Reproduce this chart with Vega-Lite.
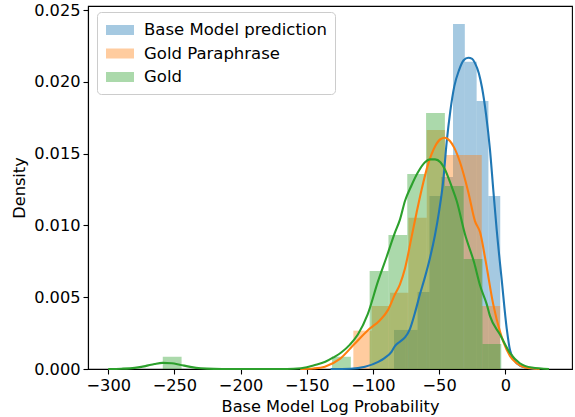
{
  "$schema": "https://vega.github.io/schema/vega-lite/v6.json",
  "width": 484,
  "height": 363,
  "autosize": {"type": "none"},
  "padding": {"left": 88, "top": 6, "right": 3, "bottom": 48},
  "background": "white",
  "config": {
    "view": {"stroke": "#000000", "strokeWidth": 1.1},
    "axis": {
      "domainColor": "#000000", "domainWidth": 1.1,
      "tickColor": "#000000", "tickWidth": 1.1, "tickSize": 5,
      "labelFont": "DejaVu Sans", "labelFontSize": 16.2, "labelColor": "#000000", "labelPadding": 3,
      "titleFont": "DejaVu Sans", "titleFontSize": 16.2, "titleFontWeight": "normal", "titleColor": "#000000",
      "grid": false, "labelOverlap": false
    },
    "axisX": {"titlePadding": 5},
    "axisY": {"titlePadding": 6},
    "legend": {
      "labelFont": "DejaVu Sans", "labelFontSize": 16.5, "labelColor": "#000000", "labelLimit": 400
    }
  },
  "datasets": {
    "bars": [
      {"series": "Base Model prediction", "x0": -84.10, "x1": -75.18, "density": 0.00272},
      {"series": "Base Model prediction", "x0": -75.18, "x1": -66.26, "density": 0.00272},
      {"series": "Base Model prediction", "x0": -66.26, "x1": -57.34, "density": 0.00536},
      {"series": "Base Model prediction", "x0": -57.34, "x1": -48.42, "density": 0.01205},
      {"series": "Base Model prediction", "x0": -48.42, "x1": -39.50, "density": 0.01337},
      {"series": "Base Model prediction", "x0": -39.50, "x1": -30.58, "density": 0.02403},
      {"series": "Base Model prediction", "x0": -30.58, "x1": -21.66, "density": 0.0214},
      {"series": "Base Model prediction", "x0": -21.66, "x1": -12.74, "density": 0.01866},
      {"series": "Base Model prediction", "x0": -12.74, "x1": -3.82, "density": 0.01205},
      {"series": "Gold Paraphrase", "x0": -114.80, "x1": -100.94, "density": 0.00267},
      {"series": "Gold Paraphrase", "x0": -100.94, "x1": -87.08, "density": 0.00439},
      {"series": "Gold Paraphrase", "x0": -87.08, "x1": -73.22, "density": 0.00531},
      {"series": "Gold Paraphrase", "x0": -73.22, "x1": -59.36, "density": 0.01054},
      {"series": "Gold Paraphrase", "x0": -59.36, "x1": -45.50, "density": 0.01664},
      {"series": "Gold Paraphrase", "x0": -45.50, "x1": -31.64, "density": 0.0149},
      {"series": "Gold Paraphrase", "x0": -31.64, "x1": -17.78, "density": 0.0149},
      {"series": "Gold Paraphrase", "x0": -17.78, "x1": -3.92, "density": 0.00439},
      {"series": "Gold", "x0": -258.80, "x1": -244.59, "density": 0.00086},
      {"series": "Gold", "x0": -130.91, "x1": -116.70, "density": 0.00086},
      {"series": "Gold", "x0": -102.49, "x1": -88.28, "density": 0.00682},
      {"series": "Gold", "x0": -88.28, "x1": -74.07, "density": 0.00933},
      {"series": "Gold", "x0": -74.07, "x1": -59.86, "density": 0.01358},
      {"series": "Gold", "x0": -59.86, "x1": -45.65, "density": 0.01783},
      {"series": "Gold", "x0": -45.65, "x1": -31.44, "density": 0.01274},
      {"series": "Gold", "x0": -31.44, "x1": -17.23, "density": 0.00766},
      {"series": "Gold", "x0": -17.23, "x1": -3.02, "density": 0.00174}
    ],
    "kde": [
      {"series": "Base Model prediction", "x": -132, "y": 0},
      {"series": "Base Model prediction", "x": -117, "y": 0.00002},
      {"series": "Base Model prediction", "x": -106, "y": 0.00016},
      {"series": "Base Model prediction", "x": -96, "y": 0.0005},
      {"series": "Base Model prediction", "x": -91, "y": 0.00078},
      {"series": "Base Model prediction", "x": -86, "y": 0.0012},
      {"series": "Base Model prediction", "x": -83.4, "y": 0.0016},
      {"series": "Base Model prediction", "x": -79.6, "y": 0.0019},
      {"series": "Base Model prediction", "x": -75.8, "y": 0.0022},
      {"series": "Base Model prediction", "x": -72, "y": 0.0028},
      {"series": "Base Model prediction", "x": -68.3, "y": 0.0039},
      {"series": "Base Model prediction", "x": -64.5, "y": 0.0052},
      {"series": "Base Model prediction", "x": -60.7, "y": 0.0064},
      {"series": "Base Model prediction", "x": -57, "y": 0.0077},
      {"series": "Base Model prediction", "x": -53.2, "y": 0.0093},
      {"series": "Base Model prediction", "x": -50, "y": 0.0110},
      {"series": "Base Model prediction", "x": -46.9, "y": 0.0131},
      {"series": "Base Model prediction", "x": -44.3, "y": 0.0158},
      {"series": "Base Model prediction", "x": -41.5, "y": 0.0180},
      {"series": "Base Model prediction", "x": -38.5, "y": 0.0197},
      {"series": "Base Model prediction", "x": -35, "y": 0.0208},
      {"series": "Base Model prediction", "x": -31.5, "y": 0.0215},
      {"series": "Base Model prediction", "x": -28, "y": 0.02168},
      {"series": "Base Model prediction", "x": -25, "y": 0.0216},
      {"series": "Base Model prediction", "x": -22.9, "y": 0.0213},
      {"series": "Base Model prediction", "x": -20, "y": 0.0206},
      {"series": "Base Model prediction", "x": -17.6, "y": 0.0196},
      {"series": "Base Model prediction", "x": -14.5, "y": 0.0177},
      {"series": "Base Model prediction", "x": -11.6, "y": 0.0153},
      {"series": "Base Model prediction", "x": -9.1, "y": 0.0125},
      {"series": "Base Model prediction", "x": -6.5, "y": 0.0097},
      {"series": "Base Model prediction", "x": -2.7, "y": 0.0062},
      {"series": "Base Model prediction", "x": 1.1, "y": 0.0028},
      {"series": "Base Model prediction", "x": 3.6, "y": 0.0013},
      {"series": "Base Model prediction", "x": 8.6, "y": 0.0004},
      {"series": "Base Model prediction", "x": 15, "y": 0.0001},
      {"series": "Base Model prediction", "x": 24, "y": 0},
      {"series": "Gold Paraphrase", "x": -155, "y": 0},
      {"series": "Gold Paraphrase", "x": -145, "y": 0.00004},
      {"series": "Gold Paraphrase", "x": -136.3, "y": 0.00016},
      {"series": "Gold Paraphrase", "x": -125, "y": 0.0007},
      {"series": "Gold Paraphrase", "x": -114.4, "y": 0.0017},
      {"series": "Gold Paraphrase", "x": -103.8, "y": 0.0027},
      {"series": "Gold Paraphrase", "x": -94.7, "y": 0.0034},
      {"series": "Gold Paraphrase", "x": -88.7, "y": 0.0041},
      {"series": "Gold Paraphrase", "x": -83.4, "y": 0.0052},
      {"series": "Gold Paraphrase", "x": -79.6, "y": 0.0059},
      {"series": "Gold Paraphrase", "x": -75.8, "y": 0.0070},
      {"series": "Gold Paraphrase", "x": -70.8, "y": 0.0092},
      {"series": "Gold Paraphrase", "x": -67, "y": 0.0109},
      {"series": "Gold Paraphrase", "x": -63.2, "y": 0.0125},
      {"series": "Gold Paraphrase", "x": -58.2, "y": 0.0143},
      {"series": "Gold Paraphrase", "x": -53.1, "y": 0.0155},
      {"series": "Gold Paraphrase", "x": -49, "y": 0.0160},
      {"series": "Gold Paraphrase", "x": -45.6, "y": 0.0161},
      {"series": "Gold Paraphrase", "x": -42, "y": 0.0159},
      {"series": "Gold Paraphrase", "x": -38.5, "y": 0.0154},
      {"series": "Gold Paraphrase", "x": -34.2, "y": 0.0144},
      {"series": "Gold Paraphrase", "x": -27.9, "y": 0.0123},
      {"series": "Gold Paraphrase", "x": -22.9, "y": 0.0103},
      {"series": "Gold Paraphrase", "x": -19, "y": 0.0095},
      {"series": "Gold Paraphrase", "x": -15, "y": 0.0076},
      {"series": "Gold Paraphrase", "x": -9.1, "y": 0.0045},
      {"series": "Gold Paraphrase", "x": -4, "y": 0.0026},
      {"series": "Gold Paraphrase", "x": -1.5, "y": 0.0019},
      {"series": "Gold Paraphrase", "x": 3.6, "y": 0.0009},
      {"series": "Gold Paraphrase", "x": 8.6, "y": 0.0004},
      {"series": "Gold Paraphrase", "x": 15, "y": 0.0001},
      {"series": "Gold Paraphrase", "x": 26, "y": 0},
      {"series": "Gold", "x": -300, "y": 0},
      {"series": "Gold", "x": -290, "y": 0.00002},
      {"series": "Gold", "x": -280, "y": 0.00008},
      {"series": "Gold", "x": -272, "y": 0.0002},
      {"series": "Gold", "x": -265, "y": 0.00035},
      {"series": "Gold", "x": -259, "y": 0.00043},
      {"series": "Gold", "x": -252, "y": 0.0004},
      {"series": "Gold", "x": -246, "y": 0.0003},
      {"series": "Gold", "x": -238, "y": 0.00015},
      {"series": "Gold", "x": -230, "y": 0.00005},
      {"series": "Gold", "x": -220, "y": 0.00001},
      {"series": "Gold", "x": -205, "y": 0},
      {"series": "Gold", "x": -170, "y": 0},
      {"series": "Gold", "x": -160, "y": 0.00002},
      {"series": "Gold", "x": -150, "y": 0.00012},
      {"series": "Gold", "x": -145, "y": 0.00025},
      {"series": "Gold", "x": -136, "y": 0.0005},
      {"series": "Gold", "x": -130, "y": 0.0008},
      {"series": "Gold", "x": -124, "y": 0.00115},
      {"series": "Gold", "x": -117.4, "y": 0.0017},
      {"series": "Gold", "x": -111.4, "y": 0.0024},
      {"series": "Gold", "x": -104, "y": 0.0038},
      {"series": "Gold", "x": -96.2, "y": 0.0061},
      {"series": "Gold", "x": -89.7, "y": 0.0078},
      {"series": "Gold", "x": -83.4, "y": 0.0095},
      {"series": "Gold", "x": -79.6, "y": 0.0104},
      {"series": "Gold", "x": -75.8, "y": 0.0117},
      {"series": "Gold", "x": -70.8, "y": 0.0128},
      {"series": "Gold", "x": -66, "y": 0.0137},
      {"series": "Gold", "x": -60.7, "y": 0.0144},
      {"series": "Gold", "x": -57, "y": 0.0146},
      {"series": "Gold", "x": -53.1, "y": 0.0146},
      {"series": "Gold", "x": -49, "y": 0.0144},
      {"series": "Gold", "x": -45.6, "y": 0.0139},
      {"series": "Gold", "x": -40.5, "y": 0.0127},
      {"series": "Gold", "x": -36.7, "y": 0.0117},
      {"series": "Gold", "x": -30.5, "y": 0.0094},
      {"series": "Gold", "x": -23.5, "y": 0.0074},
      {"series": "Gold", "x": -19, "y": 0.0058},
      {"series": "Gold", "x": -14, "y": 0.0045},
      {"series": "Gold", "x": -11.6, "y": 0.0037},
      {"series": "Gold", "x": -4, "y": 0.0024},
      {"series": "Gold", "x": 3.6, "y": 0.0011},
      {"series": "Gold", "x": 11, "y": 0.0004},
      {"series": "Gold", "x": 20, "y": 0.0001},
      {"series": "Gold", "x": 33, "y": 0}
    ]
  },
  "layer": [
    {
      "data": {"name": "bars"},
      "mark": {"type": "bar", "opacity": 0.4, "strokeWidth": 0},
      "encoding": {
        "x": {
          "field": "x0", "type": "quantitative",
          "scale": {"domain": [-315.3, 50.4], "nice": false, "zero": false},
          "axis": {"values": [-300, -250, -200, -150, -100, -50, 0], "labelExpr": "datum.value < 0 ? '\u2212' + format(-datum.value, 'd') : format(datum.value, 'd')", "title": "Base Model Log Probability"}
        },
        "x2": {"field": "x1"},
        "y": {
          "field": "density", "type": "quantitative",
          "scale": {"domain": [0, 0.02528], "nice": false, "zero": false},
          "axis": {"values": [0, 0.005, 0.01, 0.015, 0.02, 0.025], "format": ".3f", "title": "Density"}
        },
        "y2": {"datum": 0},
        "color": {
          "field": "series", "type": "nominal",
          "scale": {"domain": ["Base Model prediction", "Gold Paraphrase", "Gold"], "range": ["#1f77b4", "#ff7f0e", "#2ca02c"]},
          "legend": {
            "title": null, "orient": "none", "legendX": 9, "legendY": 6,
            "symbolType": "M-1.4,-0.5H1.4V0.5H-1.4Z", "symbolSize": 400,
            "symbolOpacity": 0.4, "symbolStrokeWidth": 0,
            "padding": 8, "rowPadding": 4.5, "symbolOffset": 5, "labelOffset": 14,
            "strokeColor": "#cccccc", "fillColor": "rgba(255,255,255,0.8)", "cornerRadius": 4
          }
        }
      }
    },
    {
      "data": {"name": "kde"},
      "mark": {"type": "line", "strokeWidth": 2.1, "interpolate": "monotone"},
      "encoding": {
        "x": {"field": "x", "type": "quantitative", "title": "Base Model Log Probability"},
        "y": {"field": "y", "type": "quantitative", "title": "Density"},
        "stroke": {
          "field": "series", "type": "nominal",
          "scale": {"domain": ["Base Model prediction", "Gold Paraphrase", "Gold"], "range": ["#1f77b4", "#ff7f0e", "#2ca02c"]},
          "legend": null
        }
      }
    }
  ]
}
